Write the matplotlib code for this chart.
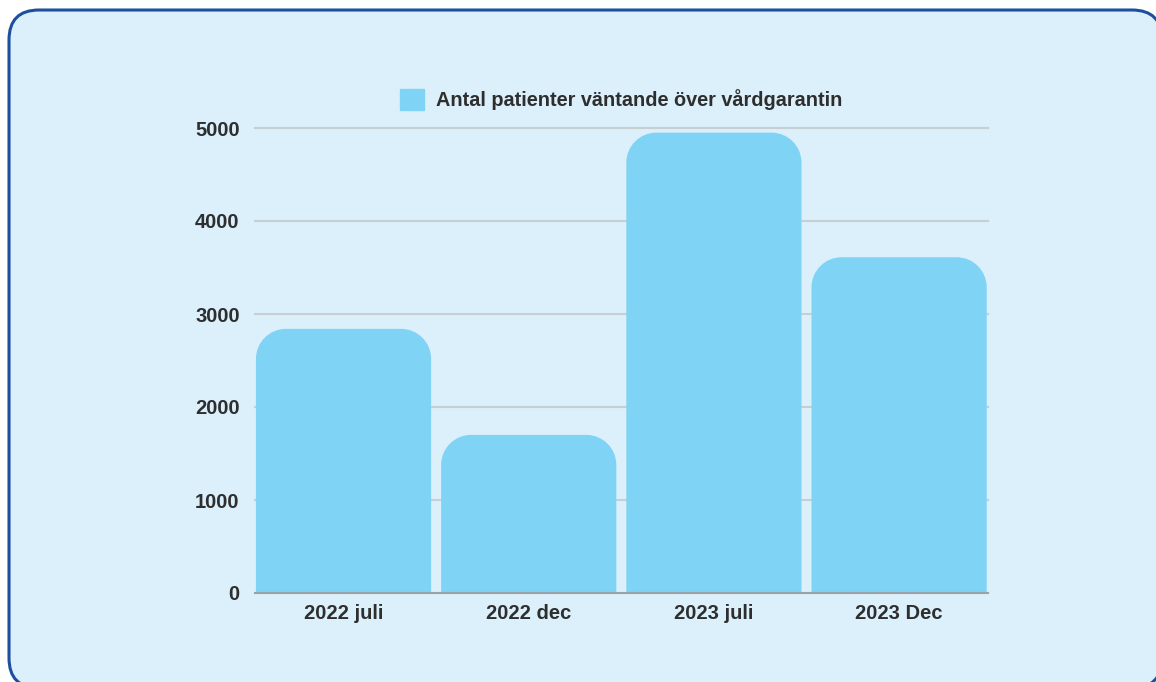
import numpy as np
import matplotlib.pyplot as plt
from matplotlib.patches import FancyBboxPatch, PathPatch
from matplotlib.path import Path

plt.rcParams['font.family'] = ['Liberation Sans', 'DejaVu Sans']

categories = ["2022 juli", "2022 dec", "2023 juli", "2023 Dec"]
values = [2840, 1700, 4950, 3610]
series_name = "Antal patienter väntande över vårdgarantin"
yticks = [0, 1000, 2000, 3000, 4000, 5000]

bar_color = "#7fd3f5"
bg_color = "#dbf0fb"
border_color = "#1e4f9f"
text_color = "#2e2e2e"


def rounded_top(x0, w, h, rx, ry):
    # rectangle with rounded top corners, built from cubic bezier arcs
    k = 0.5523
    x1 = x0 + w
    verts = [
        (x0, 0), (x0, h - ry),
        (x0, h - ry + k * ry), (x0 + rx - k * rx, h), (x0 + rx, h),
        (x1 - rx, h),
        (x1 - rx + k * rx, h), (x1, h - ry + k * ry), (x1, h - ry),
        (x1, 0), (x0, 0),
    ]
    codes = [Path.MOVETO, Path.LINETO,
             Path.CURVE4, Path.CURVE4, Path.CURVE4,
             Path.LINETO,
             Path.CURVE4, Path.CURVE4, Path.CURVE4,
             Path.LINETO, Path.CLOSEPOLY]
    return Path(verts, codes)


fig = plt.figure(figsize=(11.56, 6.82), dpi=100, facecolor="white")
W, H = 1156, 682

# rounded panel behind everything
r = 30
panel = FancyBboxPatch((9 / W, -6 / H), (1162 - 9) / W, (672 + 6) / H,
                       boxstyle=f"round,pad=0,rounding_size={r / W}",
                       mutation_aspect=W / H,
                       transform=fig.transFigure, facecolor=bg_color,
                       edgecolor=border_color, linewidth=2.2, zorder=-5)
fig.patches.append(panel)

ax = fig.add_axes([255 / W, (682 - 593) / H, (988 - 255) / W, (593 - 128) / H])
ax.set_facecolor("none")
x = np.arange(len(categories))
bars = ax.bar(x, values, width=0.946, color=bar_color, label=series_name, zorder=2)
ax.set_xlim(-0.478, 3.48)
ax.set_ylim(0, 5000)

# swap the square bars for ones with rounded tops
xr = ax.get_xlim()[1] - ax.get_xlim()[0]
yr = ax.get_ylim()[1] - ax.get_ylim()[0]
ax_w = (988 - 255)
ax_h = (593 - 128)
rx = 30 * xr / ax_w
ry = 30 * yr / ax_h
for b in bars:
    b.set_visible(False)
    p = PathPatch(rounded_top(b.get_x(), b.get_width(), b.get_height(), rx, ry),
                  facecolor=bar_color, edgecolor="none", zorder=2)
    ax.add_patch(p)

ax.set_xticks(x)
ax.set_xticklabels(categories)
ax.set_yticks(yticks)
ax.tick_params(axis="both", length=0, labelsize=14.5, colors=text_color)
ax.tick_params(axis="y", pad=11)
ax.tick_params(axis="x", pad=8)
for lab in ax.get_xticklabels() + ax.get_yticklabels():
    lab.set_fontweight("bold")

ax.yaxis.grid(True, color="#c7cfd3", linewidth=1.5, zorder=1)
ax.set_axisbelow(True)
for s in ["top", "left", "right"]:
    ax.spines[s].set_visible(False)
ax.spines["bottom"].set_color("#9aa3a8")
ax.spines["bottom"].set_linewidth(1.5)
for gl in ax.yaxis.get_gridlines():
    gl.set_clip_on(False)

handle = plt.Rectangle((0, 0), 1, 1, color=bar_color)
leg = ax.legend([handle], [series_name], loc="lower center",
                bbox_to_anchor=(0.5, 1.0), frameon=False,
                handlelength=1.2, handleheight=1.2, handletextpad=0.6,
                prop={"size": 14.3, "weight": "bold"})
for t in leg.get_texts():
    t.set_color(text_color)

fig.savefig("out.png", dpi=100, facecolor="white")
